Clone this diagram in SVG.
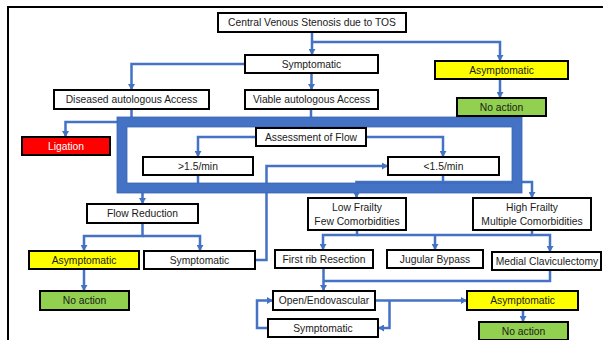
<svg xmlns="http://www.w3.org/2000/svg" width="603" height="340" viewBox="0 0 603 340">
  <defs>
    <marker id="arrow" markerUnits="userSpaceOnUse" markerWidth="7" markerHeight="7" refX="6" refY="3.5" orient="auto">
      <path d="M0,0 L6,3.5 L0,7 z" fill="#4472C4"/>
    </marker>
    <style>
      .box { fill: #ffffff; stroke: #000000; stroke-width: 2; }
      .yellow { fill: #FFFF00; }
      .green { fill: #92D050; }
      .red { fill: #FF0000; }
      .lbl { font-family: "Liberation Sans", Arial, sans-serif; font-size: 10.3px; fill: #1a1a1a; text-anchor: middle; dominant-baseline: central; }
      .white { fill: #ffffff; }
      .conn { fill: none; stroke: #4472C4; stroke-width: 2.5; stroke-linejoin: miter; }
      .arr { marker-end: url(#arrow); }
    </style>
  </defs>

  <rect x="0" y="0" width="603" height="340" fill="#ffffff"/>
  <!-- page border -->
  <rect x="8" y="7" width="620" height="360" fill="none" stroke="#000000" stroke-width="2"/>

  <!-- connectors -->
  <g id="connectors">
    <path class="conn arr" d="M312,32 V55"/>
    <path class="conn arr" d="M312,42 H500 V61"/>
    <path class="conn arr" d="M245,64 H131.5 V90"/>
    <path class="conn arr" d="M311.5,73 V90"/>
    <path class="conn arr" d="M500,79 V98"/>
    <path class="conn arr" d="M131.5,109 V122 H65.5 V137"/>
    <path class="conn" d="M311,109 V128"/>
    <path class="conn arr" d="M256,137 H198 V157"/>
    <path class="conn arr" d="M366,137 H443 V157"/>
    <path class="conn arr" d="M255,260 H266.5 V166 H388"/>
    <path class="conn arr" d="M198,175 V188 H142.5 V204"/>
    <path class="conn arr" d="M443,175 V182 H356.5 V198"/>
    <path class="conn arr" d="M443,182 H532 V198"/>
    <path class="conn arr" d="M142.5,223 V236 H84 V251"/>
    <path class="conn arr" d="M142.5,236 H200 V251"/>
    <path class="conn arr" d="M84,269 V291"/>
    <path class="conn arr" d="M357,230 V235 H323 V250"/>
    <path class="conn arr" d="M532,230 V235 H550 V252"/>
    <path class="conn" d="M357,235 H532"/>
    <path class="conn arr" d="M435,235 V250"/>
    <path class="conn arr" d="M323.5,268 V291"/>
    <path class="conn" d="M550,270 V281 H323.5"/>
    <path class="conn arr" d="M375,300.5 H467"/>
    <path class="conn arr" d="M389.5,300.5 V328 H378"/>
    <path class="conn arr" d="M268,328 H257 V300.5 H273"/>
    <path class="conn arr" d="M523,310 V322"/>
  </g>

  <!-- flow assessment frame -->
  <g id="flow-frame">
    <rect x="122" y="122" width="395" height="66" fill="none" stroke="#4472C4" stroke-width="10"/>
    <rect x="117" y="117" width="405" height="76" fill="none" stroke="#3B66B5" stroke-width="0.8"/>
    <rect x="127" y="127" width="385" height="56" fill="none" stroke="#3B66B5" stroke-width="0.8"/>
  </g>

  <g id="central-stenosis"><rect class="box" x="218" y="13" width="188" height="19"/><text class="lbl" x="312" y="22.5">Central Venous Stenosis due to TOS</text></g>
  <g id="symptomatic-top"><rect class="box" x="245" y="55" width="133" height="18"/><text class="lbl" x="311.5" y="64">Symptomatic</text></g>
  <g id="asymptomatic-top"><rect class="box yellow" x="435" y="61" width="133" height="18"/><text class="lbl" x="501.5" y="70">Asymptomatic</text></g>
  <g id="no-action-top"><rect class="box green" x="457" y="98" width="89" height="18"/><text class="lbl" x="501.5" y="107">No action</text></g>
  <g id="diseased-access"><rect class="box" x="54" y="90" width="155" height="19"/><text class="lbl" x="131.5" y="99.5">Diseased autologous Access</text></g>
  <g id="viable-access"><rect class="box" x="245" y="90" width="133" height="19"/><text class="lbl" x="311.5" y="99.5">Viable autologous Access</text></g>
  <g id="ligation"><rect class="box red" x="22" y="137" width="88" height="18"/><text class="lbl white" x="66" y="146">Ligation</text></g>
  <g id="assessment"><rect class="box" x="256" y="128" width="110" height="18"/><text class="lbl" x="311" y="137">Assessment of Flow</text></g>
  <g id="flow-high"><rect class="box" x="143" y="157" width="110" height="18"/><text class="lbl" x="198" y="166">&gt;1.5/min</text></g>
  <g id="flow-low"><rect class="box" x="388" y="157" width="111" height="18"/><text class="lbl" x="443.5" y="166">&lt;1.5/min</text></g>
  <g id="flow-reduction"><rect class="box" x="87" y="204" width="111" height="19"/><text class="lbl" x="142.5" y="213.5">Flow Reduction</text></g>
  <g id="low-frailty"><rect class="box" x="308" y="198" width="98" height="32"/><text class="lbl" x="357" y="207.5">Low Frailty</text><text class="lbl" x="357" y="221">Few Comorbidities</text></g>
  <g id="high-frailty"><rect class="box" x="473" y="198" width="118" height="32"/><text class="lbl" x="532" y="207.5">High Frailty</text><text class="lbl" x="532" y="221">Multiple Comorbidities</text></g>
  <g id="asymptomatic-left"><rect class="box yellow" x="29" y="251" width="110" height="18"/><text class="lbl" x="84" y="260">Asymptomatic</text></g>
  <g id="symptomatic-mid"><rect class="box" x="144" y="251" width="111" height="18"/><text class="lbl" x="199.5" y="260">Symptomatic</text></g>
  <g id="no-action-left"><rect class="box green" x="40" y="291" width="89" height="19"/><text class="lbl" x="84.5" y="300.5">No action</text></g>
  <g id="first-rib"><rect class="box" x="275" y="250" width="98" height="18"/><text class="lbl" x="324" y="259">First rib Resection</text></g>
  <g id="jugular-bypass"><rect class="box" x="387" y="250" width="96" height="18"/><text class="lbl" x="435" y="259">Jugular Bypass</text></g>
  <g id="medial-claviculectomy"><rect class="box" x="492" y="252" width="109" height="18"/><text class="lbl" x="547" y="261">Medial Claviculectomy</text></g>
  <g id="open-endovascular"><rect class="box" x="273" y="291" width="102" height="19"/><text class="lbl" x="324" y="300.5">Open/Endovascular</text></g>
  <g id="symptomatic-bottom"><rect class="box" x="268" y="319" width="110" height="18"/><text class="lbl" x="323" y="328">Symptomatic</text></g>
  <g id="asymptomatic-right"><rect class="box yellow" x="467" y="291" width="111" height="19"/><text class="lbl" x="522.5" y="300.5">Asymptomatic</text></g>
  <g id="no-action-right"><rect class="box green" x="479" y="322" width="89" height="18"/><text class="lbl" x="523.5" y="331">No action</text></g>
</svg>
